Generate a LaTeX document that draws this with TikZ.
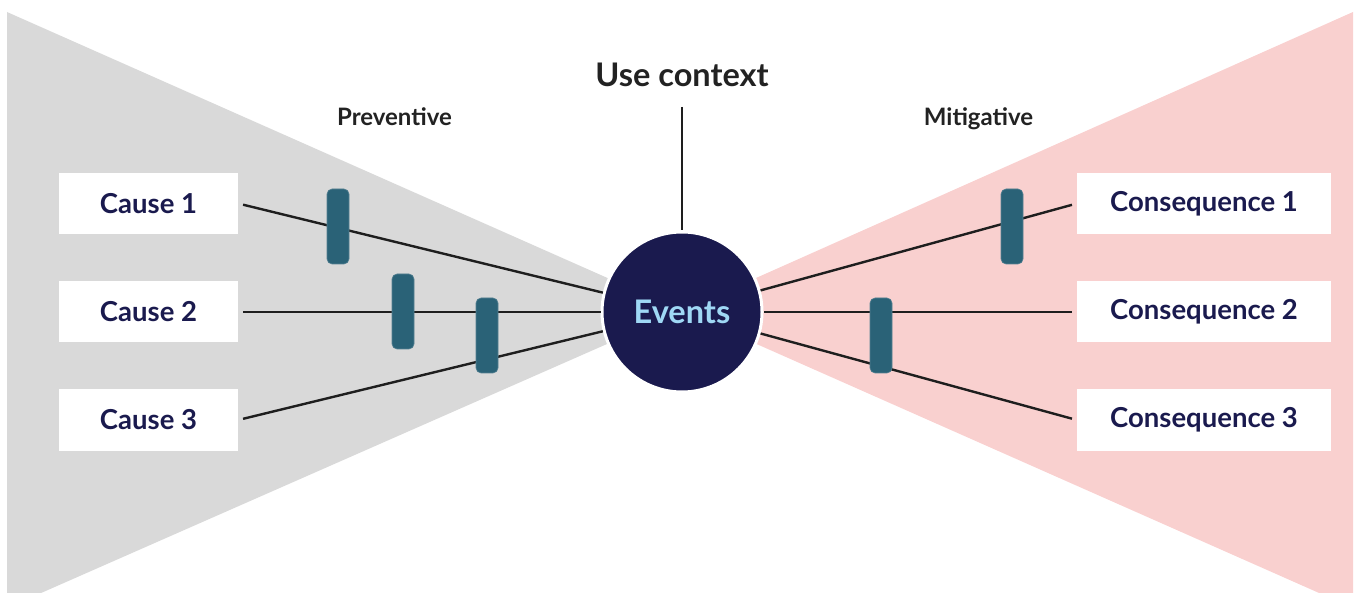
\documentclass[tikz,border=0pt]{standalone}
\usepackage{fontspec}
\setmainfont{Lato}[BoldFont={Lato Bold}]
\definecolor{graybg}{HTML}{D9D9D9}
\definecolor{pinkbg}{HTML}{F9D0CF}
\definecolor{navy}{HTML}{1A1A4E}
\definecolor{evtext}{HTML}{9FD8F5}
\definecolor{teal}{HTML}{2A6277}
\definecolor{linec}{HTML}{1E1E1E}
\definecolor{darktext}{HTML}{222222}
\tikzset{
  box/.style={fill=white, minimum height=61pt, inner sep=0pt, text=navy, font=\bfseries\fontsize{27.5}{30}\selectfont},
  barrier/.style={fill=teal, draw=teal!80!white, line width=0.6pt, rounded corners=5pt, minimum width=22pt, minimum height=75pt, inner sep=0pt},
  conn/.style={draw=linec, line width=2.4pt},
  head/.style={text=darktext, anchor=base, inner sep=0pt, font=\bfseries\fontsize{24}{27}\selectfont},
}
\begin{document}
\begin{tikzpicture}[x=1pt,y=-1pt]
\useasboundingbox (0,0) rectangle (1360,593);
\begin{scope}
\clip (0,0) rectangle (1360,593);
\fill[graybg] (7,12) -- (682,311) -- (7,608) -- cycle;
\fill[pinkbg] (1353,12) -- (682,311) -- (1353,608) -- cycle;
\end{scope}
% nodes
\node[box, minimum width=179pt] (c1) at (148.5,203.5) {Cause 1};
\node[box, minimum width=179pt] (c2) at (148.5,312) {Cause 2};
\node[box, minimum width=179pt] (c3) at (148.5,420) {Cause 3};
\node[box, minimum width=254pt] (q1) at (1204,203.5) {Consequence 1};
\node[box, minimum width=254pt] (q2) at (1204,312) {Consequence 2};
\node[box, minimum width=254pt] (q3) at (1204,420) {Consequence 3};
\node[circle, fill=navy, draw=white, line width=3pt, minimum size=160pt, inner sep=0pt, text=evtext, font=\bfseries\fontsize{32.5}{35}\selectfont] (ev) at (682,312) {Events};
\node[text=darktext, anchor=base, inner sep=0pt, font=\bfseries\fontsize{32.5}{35}\selectfont] (uc) at (682,87) {Use context};
\node[head] (pv) at (394.5,126) {Preventive};
\node[head] (mg) at (978.5,126) {Mitigative};
\coordinate (ucl) at (682,107);
% connectors
\draw[conn, shorten <=5pt] (c1.east) -- (ev);
\draw[conn, shorten <=5pt] (c2.east) -- (ev);
\draw[conn, shorten <=5pt] (c3.east) -- (ev);
\draw[conn, shorten <=5pt] (q1.west) -- (ev);
\draw[conn, shorten <=5pt] (q2.west) -- (ev);
\draw[conn, shorten <=5pt] (q3.west) -- (ev);
\draw[conn] (ucl) -- (ev);
% barriers
\node[barrier] (b1) at (338,226.5) {};
\node[barrier] (b2) at (403,311.5) {};
\node[barrier] (b3) at (487,335.5) {};
\node[barrier] (b4) at (1012,226.5) {};
\node[barrier] (b5) at (881,335.5) {};
\end{tikzpicture}
\end{document}
